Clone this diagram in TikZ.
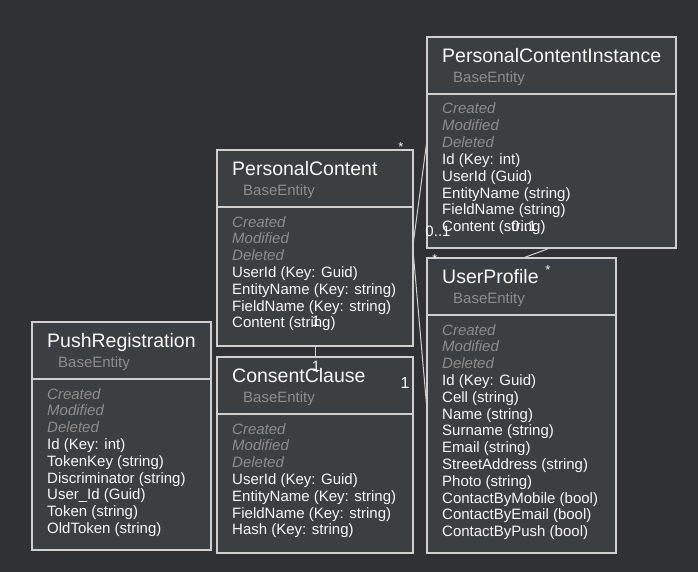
\documentclass[tikz,border=0pt]{standalone}
\usepackage{fontspec}
\setmainfont{Liberation Sans}
\definecolor{bgc}{HTML}{303134}
\definecolor{boxc}{HTML}{3C3F42}
\definecolor{bordc}{HTML}{CFCFCF}
\definecolor{grayc}{HTML}{8C8C8C}
\definecolor{txtc}{HTML}{F7F7F7}
\tikzset{
  box/.style={draw=bordc, fill=boxc, line width=1.2pt, inner sep=0pt, outer sep=0pt},
  divl/.style={draw=bordc, line width=1.2pt},
  ttl/.style={text=txtc, font=\fontsize{19.5}{21}\selectfont, inner sep=0pt},
  basetxt/.style={text=grayc, font=\fontsize{15}{17}\selectfont, inner sep=0pt},
  attr/.style={text=txtc, font=\fontsize{15}{17}\selectfont, inner sep=0pt},
  ghost/.style={text=grayc, font=\fontsize{15}{17}\selectfont\itshape, inner sep=0pt},
  conn/.style={draw=bordc, line width=1pt},
  mult/.style={text=txtc, font=\fontsize{15}{17}\selectfont, inner sep=0pt},
  star/.style={text=txtc, font=\fontsize{13}{15}\selectfont, inner sep=0pt},
}
\newcommand{\umlbox}[7]{%
  \node[box, minimum width=#4pt, minimum height=#5pt, anchor=north west] (#1) at (#2,#3) {};
  \draw[divl] ([yshift=-57pt]#1.north west) -- ([yshift=-57pt]#1.north east);
  \node[ttl, anchor=base west] (#1t) at ([xshift=15pt,yshift=-25.5pt]#1.north west) {#6};
  \node[basetxt, anchor=base west] (#1b) at ([xshift=26pt,yshift=-45.5pt]#1.north west) {BaseEntity};
  \foreach \w [count=\i from 0] in {Created,Modified,Deleted}
    \node[ghost, anchor=base west] (#1g\i) at ([xshift=15pt,yshift={-77pt-16.8pt*\i}]#1.north west) {\w};
  \foreach \w [count=\i from 3] in {#7}
    \node[attr, anchor=base west] (#1a\i) at ([xshift=15pt,yshift={-77pt-16.8pt*\i}]#1.north west) {\w};
}
\begin{document}
\begin{tikzpicture}[x=1pt,y=-1pt]
  \path[fill=bgc] (0,0) rectangle (698,572);
  \useasboundingbox (0,0) rectangle (698,572);

  \umlbox{pci}{427}{37}{249}{211}{PersonalContentInstance}{Id (Key: int),UserId (Guid),EntityName (string),FieldName (string),Content (string)}
  \umlbox{pc}{217}{150}{196}{196}{PersonalContent}{UserId (Key: Guid),EntityName (Key: string),FieldName (Key: string),Content (string)}
  \umlbox{pr}{32}{322}{179}{228}{PushRegistration}{Id (Key: int),TokenKey (string),Discriminator (string),User\_Id (Guid),Token (string),OldToken (string)}
  \umlbox{cc}{217}{357}{196}{196}{ConsentClause}{UserId (Key: Guid),EntityName (Key: string),FieldName (Key: string),Hash (Key: string)}
  \umlbox{up}{427}{258}{189}{295}{UserProfile}{Id (Key: Guid),Cell (string),Name (string),Surname (string),Email (string),StreetAddress (string),Photo (string),ContactByMobile (bool),ContactByEmail (bool),ContactByPush (bool)}

  % connectors
  \draw[conn] ([yshift=-103pt]pci.north west) -- ([yshift=-95pt]pc.north east);
  \draw[conn] ([yshift=-100pt]pc.north east) -- ([yshift=-152pt]up.north west);
  \draw[conn] (pc.south) -- (cc.north);
  \draw[conn] ([xshift=123pt]pci.south west) -- ([xshift=96pt]up.north west);

  % multiplicities
  \node[star] (m1) at (401,147) {*};
  \node[mult] (m2) at (438,231) {0..1};
  \node[star] (m3) at (435,259) {*};
  \node[mult] (m4) at (524,226) {0..1};
  \node[star] (m5) at (548,270) {*};
  \node[mult] (m6) at (316,321) {1};
  \node[mult] (m7) at (316,366) {1};
  \node[mult, font=\fontsize{16}{18}\selectfont] (m8) at (405,383) {1};
\end{tikzpicture}
\end{document}
